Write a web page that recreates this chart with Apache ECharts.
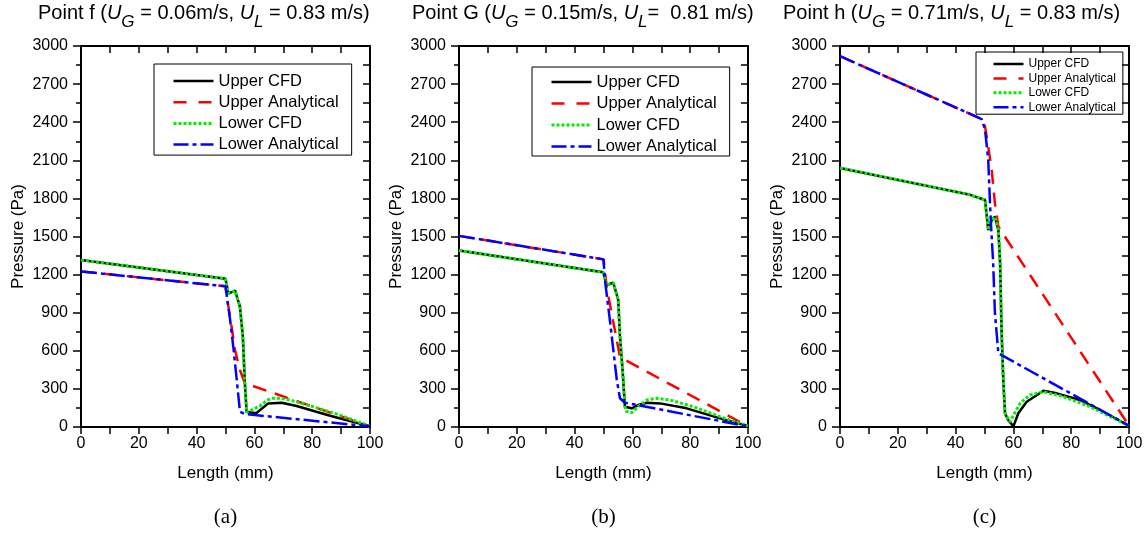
<!DOCTYPE html>
<html><head><meta charset="utf-8">
<script src="https://cdn.jsdelivr.net/npm/echarts@6/dist/echarts.min.js"></script>
<style>html,body{margin:0;padding:0;background:#fff}#c{width:1148px;height:533px}</style>
</head><body><div id="c"></div>
<script>
// ---------- data (x = Length in mm, y = Pressure in Pa) ----------
const seriesNames = ['Upper CFD', 'Upper Analytical', 'Lower CFD', 'Lower Analytical'];
const panelLetters = ['(a)', '(b)', '(c)'];
const titlePoints = ['f', 'G', 'h'];
const titleUG = ['0.06m/s, ', '0.15m/s, ', '0.71m/s, '];
const titleUL = [' = 0.83 m/s)', '=  0.81 m/s)', ' = 0.83 m/s)'];
const xTickStep = 10, xLabelStep = 20, yTickStep = 300;

// Panel (a)
const aUpperCFD = [[0,1315],[50,1168],[51,1050],[53.3,1073],[55,947],[56,711],[56.7,344],[57.3,120],[60.6,108],[64.8,186],[69.4,191],[74.6,165],[86.2,88],[100,5]];
const aUpperAnalytical = [[0,1225],[50,1108],[50.4,1030],[51.6,868],[53.3,606],[55,449],[56.7,345],[100,5]];
const aLowerCFD = [[0,1315],[50,1168],[51,1050],[53.3,1073],[55,947],[56,711],[56.7,344],[57.3,115],[61.9,165],[64.5,212],[66,226],[68.9,226],[72.3,212],[80.4,160],[89.6,94],[100,5]];
const aLowerAnalytical = [[0,1225],[50,1108],[51.6,843],[52.7,632],[53.9,370],[55,120],[56.7,102],[100,5]];

// Panel (b)
const bUpperCFD = [[0,1390],[49.9,1218],[51.1,1118],[53.4,1136],[55.1,1000],[55.7,711],[56.6,449],[57.4,160],[58,155],[59.8,147],[62,173],[65,191],[69.6,186],[78.8,147],[90.3,68],[100,8]];
const bUpperAnalytical = [[0,1505],[50,1320],[51.1,1105],[52.8,895],[54.6,685],[55.7,550],[100,5]];
const bLowerCFD = [[0,1390],[49.9,1218],[51.1,1118],[53.4,1136],[55.1,1000],[55.7,711],[56.6,449],[57.4,160],[58,121],[59.8,113],[62,160],[65,213],[68.4,226],[73,213],[81.1,160],[90.3,81],[100,8]];
const bLowerAnalytical = [[0,1505],[50,1320],[50.5,1157],[52.2,843],[53.4,606],[54.6,370],[55.7,226],[57.4,191],[100,5]];

// Panel (c)
const cUpperCFD = [[0,2040],[45,1828],[50.2,1787],[51.3,1551],[52.5,1630],[53.6,1656],[54.8,1551],[55.4,1289],[55.9,764],[56.5,370],[57.1,108],[58.2,55],[60,5],[61.7,108],[64.6,199],[70.4,286],[75,265],[83,213],[90,134],[100,10]];
const cUpperAnalytical = [[0,2920],[49,2425],[50.2,2365],[51.3,2207],[52.5,2024],[53.6,1761],[54.8,1577],[100,10]];
const cLowerCFD = [[0,2040],[45,1828],[50.2,1787],[51.3,1551],[52.5,1630],[53.6,1656],[54.8,1551],[55.4,1289],[55.9,764],[56.5,370],[57.1,108],[58.8,40],[62.3,186],[65.7,252],[70.4,278],[77.3,239],[86.5,160],[100,10]];
const cLowerAnalytical = [[0,2920],[49,2425],[50.2,2340],[51.3,2100],[51.9,1760],[52.3,1570],[53,1290],[53.6,900],[54.8,580],[100,10]];

const panelData = [
  [aUpperCFD, aUpperAnalytical, aLowerCFD, aLowerAnalytical],
  [bUpperCFD, bUpperAnalytical, bLowerCFD, bLowerAnalytical],
  [cUpperCFD, cUpperAnalytical, cLowerCFD, cLowerAnalytical]
];

// ---------- styles / layout ----------
const FONT = 'Liberation Sans';
const lineStyles = [
  {color: '#000000', width: 2.5, type: 'solid'},
  {color: '#ff0000', width: 2.5, type: [14, 9]},
  {color: '#00ee00', width: 3, type: [3, 2]},
  {color: '#0000ff', width: 2.5, type: [16, 4, 4, 4]}
];
const legendLineStyles = [
  {color: '#000000', width: 2.5, type: 'solid'},
  {color: '#ff0000', width: 2.5, type: [13, 12]},
  {color: '#00ee00', width: 3, type: [3, 2]},
  {color: '#0000ff', width: 2.5, type: [15, 4, 4, 4]}
];
const gridLefts = [81, 459, 840];
const gridTop = 46, gridW = 289, gridH = 381;
const titleLefts = [38, 412, 783];

const grids = [], xAxes = [], yAxes = [], series = [], titles = [], graphics = [];
const axisLineStyle = {color: '#000', width: 2};

gridLefts.forEach((left, i) => {
  grids.push({left: left, top: gridTop, width: gridW, height: gridH, containLabel: false});
  // bottom x axis
  xAxes.push({
    type: 'value', gridIndex: i, position: 'bottom', min: 0, max: 100, interval: xTickStep,
    axisLine: {show: true, onZero: false, lineStyle: axisLineStyle},
    axisTick: {show: true, inside: false, length: 7, lineStyle: {color: '#000', width: 1.5}},
    axisLabel: {show: true, margin: 9, fontSize: 16, color: '#000', fontFamily: FONT,
      formatter: v => (v % xLabelStep === 0 ? String(v) : '')},
    splitLine: {show: false},
    name: 'Length (mm)', nameLocation: 'middle', nameGap: 38,
    nameTextStyle: {fontSize: 17, color: '#000', fontFamily: FONT}
  });
  // top mirror axis
  xAxes.push({
    type: 'value', gridIndex: i, position: 'top', min: 0, max: 100, interval: xTickStep,
    axisLine: {show: true, onZero: false, lineStyle: axisLineStyle},
    axisTick: {show: true, inside: true, length: 7, lineStyle: {color: '#000', width: 1.5}},
    axisLabel: {show: false}, splitLine: {show: false}
  });
  // left y axis
  yAxes.push({
    type: 'value', gridIndex: i, position: 'left', min: 0, max: 3000, interval: yTickStep,
    axisLine: {show: true, onZero: false, lineStyle: axisLineStyle},
    axisTick: {show: true, inside: false, length: 8, lineStyle: {color: '#000', width: 1.5}},
    minorTick: {show: true, splitNumber: 2, length: 5, lineStyle: {color: '#000', width: 1.5}},
    axisLabel: {show: true, margin: 13, fontSize: 16, color: '#000', fontFamily: FONT,
      formatter: v => String(v)},
    splitLine: {show: false}, minorSplitLine: {show: false},
    name: 'Pressure (Pa)', nameLocation: 'middle', nameGap: 54, nameRotate: 90,
    nameTextStyle: {fontSize: 17, color: '#000', fontFamily: FONT}
  });
  // right mirror axis
  yAxes.push({
    type: 'value', gridIndex: i, position: 'right', min: 0, max: 3000, interval: yTickStep / 2,
    axisLine: {show: true, onZero: false, lineStyle: axisLineStyle},
    axisTick: {show: true, inside: true, length: 7, lineStyle: {color: '#000', width: 1.5}},
    axisLabel: {show: false}, splitLine: {show: false}
  });

  panelData[i].forEach((d, k) => {
    series.push({
      type: 'line', name: seriesNames[k], xAxisIndex: i * 2, yAxisIndex: i * 2,
      data: d, symbol: 'none', smooth: false, animation: false,
      lineStyle: lineStyles[k], itemStyle: {color: lineStyles[k].color}, z: 2 + k
    });
  });

  titles.push({
    left: titleLefts[i], top: 3, padding: 0,
    text: '{n|Point ' + titlePoints[i] + ' (}{i|U}{s|G}{n| = ' + titleUG[i] + '}{i|U}{s|L}{n|' + titleUL[i] + '}',
    textStyle: {
      fontFamily: FONT, fontSize: 20, color: '#000', fontWeight: 'normal',
      rich: {
        n: {fontFamily: FONT, fontSize: 20, lineHeight: 22, color: '#000', verticalAlign: 'top'},
        i: {fontFamily: FONT, fontSize: 20, lineHeight: 22, color: '#000', fontStyle: 'italic', verticalAlign: 'top'},
        s: {fontFamily: FONT, fontSize: 17, lineHeight: 17, color: '#000', fontStyle: 'italic', verticalAlign: 'top', padding: [11, 0, 0, 0]}
      }
    }
  });

  graphics.push({
    type: 'text', x: left + gridW / 2, y: 517,
    style: {text: panelLetters[i], font: '21px "Liberation Serif"', fill: '#000', align: 'center', verticalAlign: 'middle'}
  });
});

const legendData = () => seriesNames.map((n, k) => ({name: n, lineStyle: Object.assign({}, legendLineStyles[k]), itemStyle: {opacity: 0}}));
const legends = [
  {left: 154, top: 64, padding: [8.5, 13, 2, 18], itemWidth: 40, itemHeight: 14, itemGap: 4.2, orient: 'vertical',
   textStyle: {fontFamily: FONT, fontSize: 16.5, lineHeight: 16, color: '#000'}, borderColor: '#000', borderWidth: 1,
   data: legendData(), selectedMode: false, itemStyle: {opacity: 0}},
  {left: 532, top: 67, padding: [6.5, 13, 1, 18], itemWidth: 40, itemHeight: 14, itemGap: 4.5, orient: 'vertical',
   textStyle: {fontFamily: FONT, fontSize: 16.5, lineHeight: 16, color: '#000'}, borderColor: '#000', borderWidth: 1,
   data: legendData(), selectedMode: false, itemStyle: {opacity: 0}},
  {left: 976, top: 52, padding: [6, 7, 1, 16], itemWidth: 30, itemHeight: 12, itemGap: 2.4, orient: 'vertical',
   textStyle: {fontFamily: FONT, fontSize: 12, lineHeight: 12, color: '#000'}, borderColor: '#000', borderWidth: 1,
   data: legendData(), selectedMode: false, itemStyle: {opacity: 0}}
];

const chart = echarts.init(document.getElementById('c'), null, {renderer: 'canvas'});
chart.setOption({
  animation: false,
  backgroundColor: '#ffffff',
  textStyle: {fontFamily: FONT},
  title: titles,
  legend: legends,
  grid: grids,
  xAxis: xAxes,
  yAxis: yAxes,
  series: series,
  graphic: graphics
});
</script>
</body></html>
